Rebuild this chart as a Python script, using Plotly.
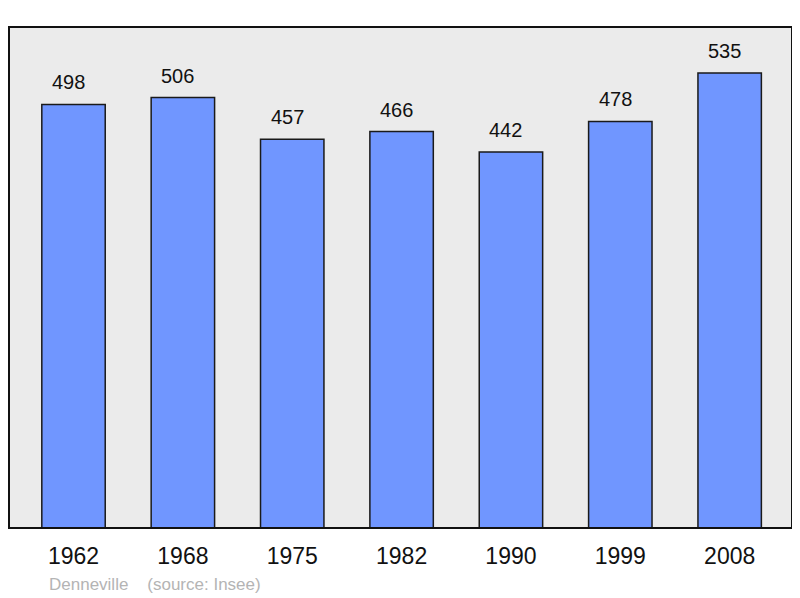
import plotly.graph_objects as go

# Population data (source: Insee)
years = ["1962", "1968", "1975", "1982", "1990", "1999", "2008"]
population = [498, 506, 457, 466, 442, 478, 535]
commune = "Denneville"
source_note = "(source: Insee)"

fig = go.Figure()

fig.add_trace(go.Bar(
    x=years,
    y=population,
    width=0.58,
    marker=dict(color="#7096ff", line=dict(color="#1a1a1a", width=1.5)),
    hoverinfo="x+y",
))

# value labels above the bars (category index used for x)
for i, val in enumerate(population):
    fig.add_annotation(x=i, y=val, xref="x", yref="y", text=str(val),
                       showarrow=False, yshift=22, xshift=-5,
                       font=dict(size=20, color="#111111"))

# footer
fig.add_annotation(xref="paper", yref="paper", x=0.048, y=-0.112,
                   xanchor="left", yanchor="middle", showarrow=False,
                   text=commune + "&nbsp;&nbsp;&nbsp;&nbsp;" + source_note,
                   font=dict(size=17, color="#b4b4b4"))

# plot frame
fig.add_shape(type="rect", xref="paper", yref="paper", x0=0, y0=0, x1=1, y1=1,
              line=dict(color="#111111", width=2), layer="above")

fig.update_xaxes(type="category", range=[-0.59, 6.57], showgrid=False,
                 showline=False, ticks="", ticklabelstandoff=12,
                 tickfont=dict(size=23, color="#111111"), fixedrange=True)
fig.update_yaxes(range=[0, 589], showgrid=False, showticklabels=False,
                 zeroline=False, showline=False, fixedrange=True)

# the page body has an 8px margin, so the figure is a bit smaller
fig.update_layout(
    width=792, height=590,
    margin=dict(l=1, r=8, t=19, b=70),
    plot_bgcolor="#ebebeb",
    paper_bgcolor="white",
    font=dict(family="Liberation Sans, Arial, sans-serif"),
    showlegend=False,
)

fig.write_html("out.html")
